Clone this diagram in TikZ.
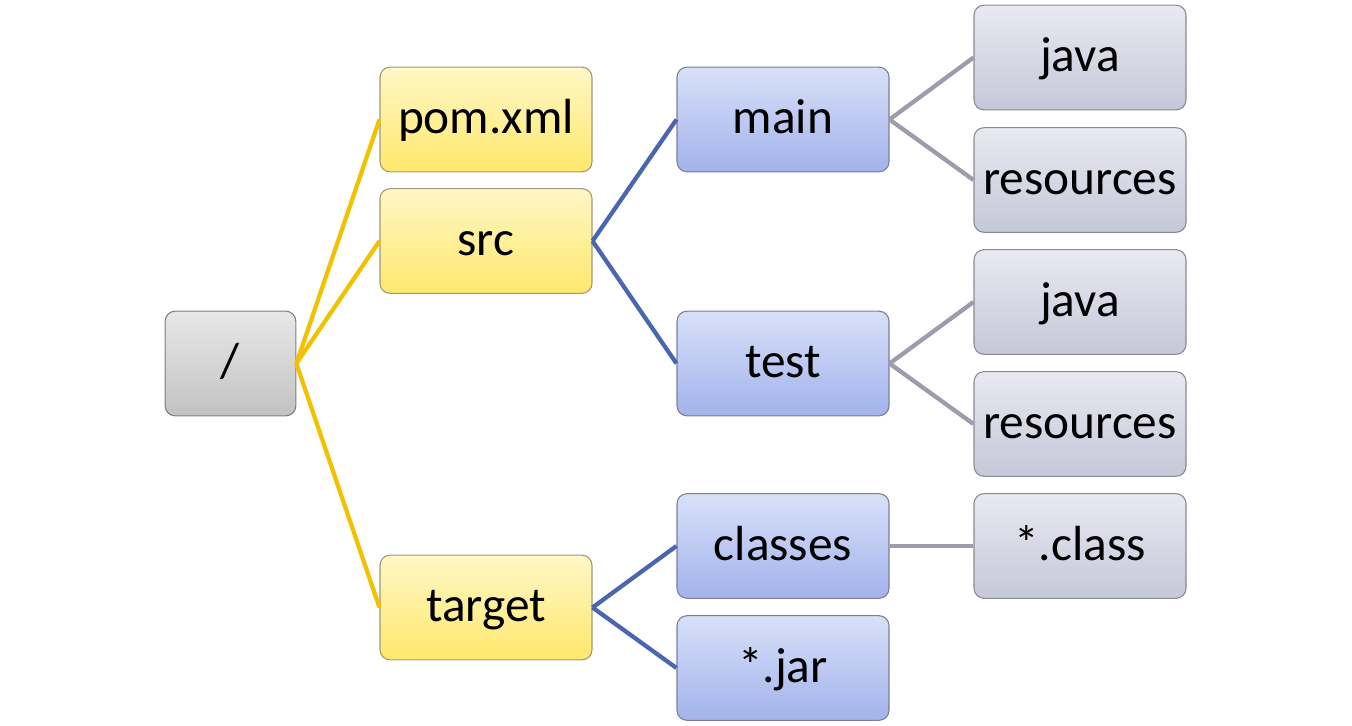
\documentclass[tikz,border=0pt]{standalone}
\usepackage{fontspec}
\setmainfont{Carlito}
\definecolor{rootTop}{HTML}{E8E8E8}
\definecolor{rootBot}{HTML}{C2C2C2}
\definecolor{rootLine}{HTML}{7F7F7F}
\definecolor{yelTop}{HTML}{FFF7C6}
\definecolor{yelBot}{HTML}{FFE86C}
\definecolor{yelLine}{HTML}{9E9A78}
\definecolor{bluTop}{HTML}{D8E0F8}
\definecolor{bluBot}{HTML}{A2B3EC}
\definecolor{bluLine}{HTML}{7A7F96}
\definecolor{lavTop}{HTML}{E9E9F1}
\definecolor{lavBot}{HTML}{C6C7D9}
\definecolor{lavLine}{HTML}{8A8A94}
\definecolor{connY}{HTML}{F2C200}
\definecolor{connB}{HTML}{4A66B0}
\definecolor{connG}{HTML}{9C9CAC}
\tikzset{
  boxbase/.style={draw, line width=0.8pt, rounded corners=7.5pt,
    minimum width=159pt, minimum height=78.5pt, inner sep=0pt,
    font=\fontsize{37}{41}\selectfont, text height=30pt, text depth=9pt},
  rootbox/.style={boxbase, minimum width=98pt, top color=rootTop, bottom color=rootBot, draw=rootLine},
  yelbox/.style={boxbase, top color=yelTop, bottom color=yelBot, draw=yelLine},
  blubox/.style={boxbase, top color=bluTop, bottom color=bluBot, draw=bluLine},
  lavbox/.style={boxbase, top color=lavTop, bottom color=lavBot, draw=lavLine},
  connyel/.style={draw=connY, line width=3.2pt},
  connblu/.style={draw=connB, line width=3.2pt},
  conngry/.style={draw=connG, line width=3.2pt},
}
\begin{document}
\begin{tikzpicture}[x=0.75pt, y=-0.75pt]
\useasboundingbox (0,0) rectangle (1352,725);
% nodes
\node[rootbox] (root) at (230.5,363.5) {/};
\node[yelbox] (pom) at (486,119.5) {pom.xml};
\node[yelbox] (src) at (486,241) {src};
\node[yelbox] (target) at (486,607.5) {target};
\node[blubox] (main) at (783,119.5) {main};
\node[blubox] (test) at (783,363.5) {test};
\node[blubox] (classes) at (783,546) {classes};
\node[blubox] (jar) at (783,668) {*.jar};
\node[lavbox] (java1) at (1080,57.5) {java};
\node[lavbox] (res1) at (1080,180) {resources};
\node[lavbox] (java2) at (1080,302) {java};
\node[lavbox] (res2) at (1080,424) {resources};
\node[lavbox] (cls) at (1080,546) {*.class};
% connectors
\draw[connyel] (root.east) -- (pom.west);
\draw[connyel] (root.east) -- (src.west);
\draw[connyel] (root.east) -- (target.west);
\draw[connblu] (src.east) -- (main.west);
\draw[connblu] (src.east) -- (test.west);
\draw[connblu] (target.east) -- (classes.west);
\draw[connblu] (target.east) -- (jar.west);
\draw[conngry] (main.east) -- (java1.west);
\draw[conngry] (main.east) -- (res1.west);
\draw[conngry] (test.east) -- (java2.west);
\draw[conngry] (test.east) -- (res2.west);
\draw[conngry] (classes.east) -- (cls.west);
\end{tikzpicture}
\end{document}
